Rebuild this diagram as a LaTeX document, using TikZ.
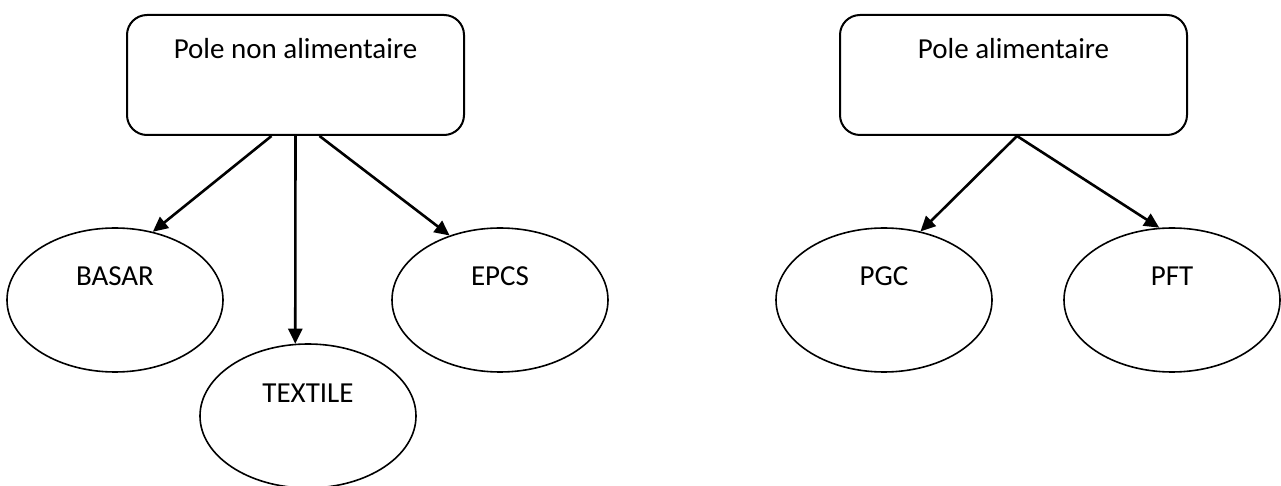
\documentclass[tikz,border=0pt]{standalone}
\usepackage{fontspec}
\setmainfont{Carlito}
\usetikzlibrary{shapes.geometric,arrows.meta,calc}

\tikzset{
  polebox/.style={draw, line width=1pt, rounded corners=10pt, inner sep=0pt,
    minimum width=168.5pt, text height=22pt, text depth=38pt, anchor=base},
  unitnode/.style={draw, ellipse, line width=0.8pt, inner sep=0pt,
    minimum width=108pt, minimum height=72pt, text height=10pt, text depth=24pt},
  link/.style={line width=1.3pt, -{Triangle[length=7.5pt,width=7pt]}}
}

\begin{document}
\begin{tikzpicture}[x=0.5pt, y=-0.5pt, font=\fontsize{14.5}{17}\selectfont]
  \useasboundingbox (0,0) rectangle (1281,486);

  % non-food division
  \node[polebox] (pna) at (295.5,59) {Pole non alimentaire};
  \node[unitnode] (basar)   at (115,300) {BASAR};
  \node[unitnode] (textile) at (308,416) {TEXTILE};
  \node[unitnode] (epcs)    at (500,300) {EPCS};

  \draw[link] ($(pna.south)+(-24,0)$) -- (basar.61);
  \draw[link] (pna.south) -- (textile.100);
  \draw[link] ($(pna.south)+(24,0)$) -- (epcs.128);

  % food division
  \node[polebox, minimum width=173.5pt] (pa) at (1013.5,59) {Pole alimentaire};
  \node[unitnode] (pgc) at (884,300) {PGC};
  \node[unitnode] (pft) at (1172,300) {PFT};

  \draw[link] ($(pa.south)+(3.5,0)$) -- (pgc.62);
  \draw[link] ($(pa.south)+(3.5,0)$) -- (pft.100);
\end{tikzpicture}
\end{document}
